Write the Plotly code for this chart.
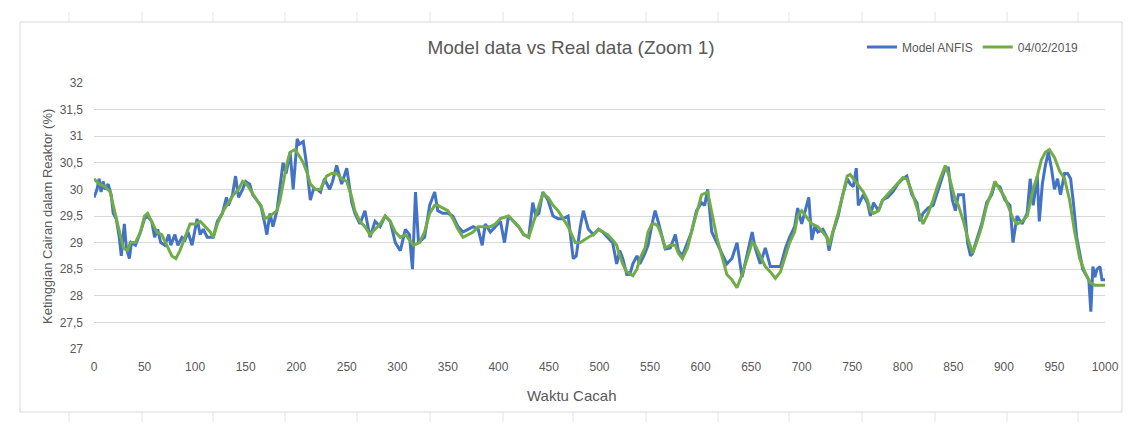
import plotly.graph_objects as go

# ---------------- data ----------------
model_x = [0, 3, 5, 7, 9, 11, 14, 17, 19, 22, 25, 27, 30, 32, 35, 37, 41, 46, 50, 53, 57, 60, 63, 66, 70, 74, 76, 80, 83, 87,
           90, 93, 97, 100, 102, 105, 108, 112, 118, 122, 127, 131, 133, 137, 140, 143, 147, 150, 154, 157, 161, 165, 169, 171,
           174, 177, 181, 184, 187, 190, 194, 197, 201, 203, 207, 210, 214, 217, 221, 224, 228, 233, 236, 240, 245, 250, 255,
           258, 263, 268, 273, 278, 283, 288, 293, 298, 303, 308, 312, 315, 318, 321, 327, 332, 337, 340, 345, 350, 355, 360,
           365, 370, 375, 380, 384, 387, 392, 397, 402, 406, 410, 415, 420, 425, 430, 434, 437, 440, 444, 449, 454, 459, 464,
           469, 474, 477, 481, 484, 489, 494, 499, 503, 508, 513, 517, 520, 523, 527, 530, 533, 537, 540, 545, 548, 552, 555,
           558, 562, 565, 570, 575, 578, 582, 587, 591, 596, 601, 604, 607, 611, 616, 621, 626, 631, 636, 641, 646, 651, 654,
           659, 664, 669, 674, 679, 684, 688, 693, 696, 700, 703, 707, 710, 713, 716, 721, 725, 727, 731, 736, 740, 745, 748,
           751, 754, 756, 761, 765, 768, 771, 776, 780, 785, 790, 795, 800, 804, 809, 814, 817, 820, 825, 830, 835, 839, 842,
           845, 849, 852, 855, 860, 864, 867, 869, 873, 878, 883, 888, 891, 896, 901, 906, 909, 913, 918, 923, 926, 929, 933,
           935, 938, 941, 944, 947, 950, 953, 956, 960, 963, 966, 969, 972, 975, 978, 981, 984, 986, 988, 990, 992, 995, 997,
           1000]
model_y = [29.85, 30.0, 30.2, 29.95, 30.15, 30.0, 30.1, 29.9, 29.55, 29.45, 29.1, 28.75, 29.35, 28.9, 28.7, 29.0, 28.95,
           29.2, 29.45, 29.5, 29.4, 29.1, 29.25, 29.0, 28.95, 29.15, 28.95, 29.15, 28.95, 29.1, 29.05, 29.2, 28.95, 29.3,
           29.45, 29.15, 29.25, 29.1, 29.1, 29.4, 29.55, 29.85, 29.7, 29.9, 30.25, 29.85, 30.0, 30.15, 30.1, 29.9, 29.8,
           29.7, 29.35, 29.15, 29.55, 29.3, 29.6, 30.0, 30.5, 30.3, 30.7, 30.0, 30.95, 30.85, 30.9, 30.5, 29.8, 30.0, 30.0,
           29.95, 30.2, 30.0, 30.15, 30.45, 30.1, 30.4, 29.75, 29.55, 29.35, 29.6, 29.1, 29.4, 29.3, 29.5, 29.4, 29.0,
           28.85, 29.25, 29.15, 28.5, 29.95, 29.0, 29.1, 29.7, 29.95, 29.6, 29.55, 29.55, 29.5, 29.3, 29.2, 29.25, 29.3,
           29.25, 28.95, 29.35, 29.2, 29.3, 29.4, 29.0, 29.5, 29.4, 29.3, 29.15, 29.1, 29.75, 29.5, 29.55, 29.95, 29.8,
           29.5, 29.45, 29.45, 29.5, 28.7, 28.75, 29.3, 29.6, 29.25, 29.15, 29.25, 29.2, 29.1, 29.0, 28.6, 28.85, 28.7,
           28.4, 28.4, 28.6, 28.75, 28.6, 28.8, 28.95, 29.35, 29.6, 29.4, 29.1, 28.88, 28.9, 29.15, 28.85, 28.75, 29.0,
           29.2, 29.6, 29.75, 29.7, 30.0, 29.2, 29.0, 28.8, 28.6, 28.7, 29.0, 28.35, 28.75, 29.2, 28.9, 28.6, 28.9, 28.55,
           28.55, 28.55, 28.9, 29.1, 29.3, 29.65, 29.35, 29.55, 29.85, 29.05, 29.3, 29.2, 29.25, 29.1, 28.85, 29.2, 29.5,
           29.85, 30.2, 30.1, 30.05, 30.4, 29.7, 29.9, 29.75, 29.5, 29.75, 29.6, 29.8, 29.85, 29.95, 30.1, 30.2, 30.25,
           29.9, 29.75, 29.4, 29.55, 29.65, 29.7, 30.0, 30.25, 30.4, 30.4, 29.8, 29.6, 29.9, 29.9, 29.0, 28.75, 28.8,
           29.05, 29.35, 29.75, 29.9, 30.1, 30.05, 29.8, 29.7, 29.0, 29.5, 29.35, 29.55, 30.2, 29.7, 30.25, 29.4, 30.1,
           30.45, 30.7, 30.4, 30.0, 30.2, 29.9, 30.3, 30.3, 30.2, 29.7, 29.1, 28.8, 28.5, 28.4, 28.3, 27.7, 28.55, 28.35,
           28.5, 28.55, 28.3, 28.3]

real_x = [0, 5, 11, 16, 19, 24, 29, 33, 36, 41, 46, 50, 53, 57, 62, 67, 72, 77, 81, 85, 88, 92, 95, 100, 105, 110, 115,
          118, 122, 128, 133, 138, 143, 147, 151, 156, 161, 166, 169, 174, 181, 184, 187, 191, 194, 199, 204, 207, 211,
          214, 219, 224, 230, 235, 240, 245, 250, 255, 258, 263, 268, 273, 278, 283, 288, 293, 298, 303, 308, 312, 316,
          322, 327, 332, 337, 340, 345, 350, 355, 360, 365, 370, 375, 380, 387, 392, 397, 402, 410, 415, 420, 425, 430,
          435, 440, 444, 449, 454, 459, 464, 469, 476, 481, 489, 494, 499, 503, 508, 513, 517, 520, 523, 527, 533, 537,
          540, 545, 548, 552, 555, 558, 562, 565, 570, 575, 578, 582, 587, 591, 596, 601, 607, 611, 616, 621, 626, 631,
          636, 641, 646, 651, 654, 659, 664, 669, 674, 679, 684, 688, 693, 696, 700, 706, 710, 716, 721, 725, 727, 731,
          736, 740, 745, 748, 751, 755, 761, 765, 768, 771, 776, 780, 785, 790, 795, 800, 804, 809, 814, 817, 820, 825,
          830, 835, 839, 842, 845, 849, 852, 855, 860, 864, 869, 873, 878, 883, 888, 891, 896, 901, 906, 909, 913, 918,
          923, 926, 929, 933, 937, 941, 945, 950, 955, 960, 965, 970, 975, 980, 985, 990, 995, 1000]
real_y = [30.2, 30.1, 30.05, 29.95, 29.7, 29.3, 28.9, 28.85, 29.0, 29.0, 29.2, 29.5, 29.55, 29.4, 29.2, 29.15, 28.95,
          28.75, 28.7, 28.85, 29.0, 29.2, 29.35, 29.35, 29.4, 29.3, 29.2, 29.1, 29.35, 29.6, 29.75, 29.9, 30.0, 30.15,
          30.1, 29.95, 29.8, 29.65, 29.45, 29.5, 29.6, 29.8, 30.1, 30.5, 30.7, 30.75, 30.6, 30.5, 30.3, 30.1, 30.0, 30.0,
          30.25, 30.3, 30.3, 30.2, 30.15, 29.85, 29.6, 29.4, 29.3, 29.15, 29.25, 29.35, 29.5, 29.4, 29.2, 29.1, 29.15,
          29.05, 28.95, 29.0, 29.2, 29.55, 29.7, 29.7, 29.65, 29.6, 29.45, 29.25, 29.1, 29.15, 29.2, 29.3, 29.3, 29.3,
          29.35, 29.45, 29.5, 29.4, 29.3, 29.15, 29.1, 29.4, 29.7, 29.92, 29.85, 29.7, 29.6, 29.45, 29.3, 29.0, 29.0,
          29.1, 29.15, 29.25, 29.2, 29.15, 29.05, 28.95, 28.75, 28.6, 28.45, 28.38, 28.5, 28.7, 28.9, 29.2, 29.35, 29.35,
          29.3, 29.1, 28.9, 28.95, 28.95, 28.8, 28.7, 28.9, 29.2, 29.55, 29.9, 29.95, 29.6, 29.1, 28.75, 28.4, 28.3,
          28.15, 28.4, 28.7, 29.0, 28.95, 28.75, 28.55, 28.45, 28.33, 28.45, 28.75, 29.0, 29.2, 29.5, 29.6, 29.45, 29.35,
          29.3, 29.2, 29.1, 28.95, 29.2, 29.55, 29.85, 30.25, 30.28, 30.2, 30.1, 29.95, 29.8, 29.6, 29.55, 29.6, 29.8,
          29.9, 30.0, 30.1, 30.22, 30.2, 29.95, 29.65, 29.5, 29.35, 29.55, 29.8, 30.1, 30.3, 30.45, 30.3, 30.0, 29.8,
          29.7, 29.4, 29.1, 28.8, 29.0, 29.3, 29.7, 29.95, 30.15, 30.0, 29.85, 29.6, 29.45, 29.35, 29.4, 29.5, 29.75,
          30.0, 30.25, 30.55, 30.7, 30.75, 30.6, 30.35, 30.2, 29.8, 29.2, 28.7, 28.45, 28.25, 28.2, 28.2, 28.2]

series_names = ["Model ANFIS", "04/02/2019"]
x_ticks = list(range(0, 1001, 50))
y_ticks = [27 + 0.5 * i for i in range(11)]

# ---------------- figure ----------------
TXT = "#595959"
NARROW = "Liberation Sans Narrow, Arial Narrow, Liberation Sans, sans-serif"

fig = go.Figure()
fig.add_trace(go.Scatter(x=model_x, y=model_y, mode="lines", name=series_names[0],
                         line=dict(color="#4472C4", width=3)))
fig.add_trace(go.Scatter(x=real_x, y=real_y, mode="lines", name=series_names[1],
                         line=dict(color="#70AD47", width=3)))

L, R, T, B = 94, 1105, 83, 349
W, H = 1143, 432
pw, ph = R - L, B - T


def px(xp):
    return (xp - L) / pw


def py(yp):
    return (B - yp) / ph


shapes = [
    dict(type="rect", xref="paper", yref="paper", x0=px(20), x1=px(1122), y0=py(412), y1=py(22),
         line=dict(color="#D9D9D9", width=1), fillcolor="rgba(0,0,0,0)", layer="below"),
]
# faint spreadsheet column separators visible above and below the chart frame
for cx in [69, 142, 213, 285, 357, 430, 503, 573, 646, 718, 789, 862, 935, 1007, 1078]:
    shapes.append(dict(type="line", xref="paper", yref="paper", x0=px(cx), x1=px(cx),
                       y0=py(12), y1=py(22), line=dict(color="#E3E3E3", width=1), layer="below"))
    shapes.append(dict(type="line", xref="paper", yref="paper", x0=px(cx), x1=px(cx),
                       y0=py(412), y1=py(422), line=dict(color="#E3E3E3", width=1), layer="below"))

fig.update_layout(
    width=W, height=H,
    margin=dict(l=L, r=W - R, t=T, b=H - B, pad=0),
    paper_bgcolor="white", plot_bgcolor="white",
    separators=", ",
    font=dict(family=NARROW, color=TXT, size=12),
    title=dict(text="Model data vs Real data (Zoom 1)", x=571 / W, xanchor="center",
               y=1 - 47 / H, yanchor="middle",
               font=dict(family=NARROW, size=19, color=TXT)),
    showlegend=True,
    legend=dict(orientation="h", x=px(862), xanchor="left", y=py(47), yanchor="middle",
                font=dict(family=NARROW, size=12, color=TXT), bgcolor="rgba(0,0,0,0)",
                itemwidth=30, tracegroupgap=0),
    xaxis=dict(range=[0, 1000], tickvals=x_ticks, showgrid=False, zeroline=False,
               showline=False, ticks="", ticklabelstandoff=9,
               tickfont=dict(family=NARROW, size=12, color=TXT)),
    yaxis=dict(range=[27, 32], tickvals=y_ticks, showgrid=True, gridcolor="#D9D9D9",
               gridwidth=1, zeroline=False, showline=False, ticks="", ticklabelstandoff=10,
               tickformat=".1~f",
               tickfont=dict(family=NARROW, size=12, color=TXT)),
    annotations=[
        dict(text="Waktu Cacah", xref="paper", yref="paper", x=px(571), y=py(395),
             xanchor="center", yanchor="middle", showarrow=False,
             font=dict(family=NARROW, size=15, color=TXT)),
        dict(text="Ketinggian Cairan dalam Reaktor (%)", xref="paper", yref="paper",
             x=px(47), y=py(217), xanchor="center", yanchor="middle", textangle=-90,
             showarrow=False, font=dict(family="Liberation Sans, Arial, sans-serif", size=13, color=TXT)),
    ],
    shapes=shapes,
)

fig.write_html("out.html")
